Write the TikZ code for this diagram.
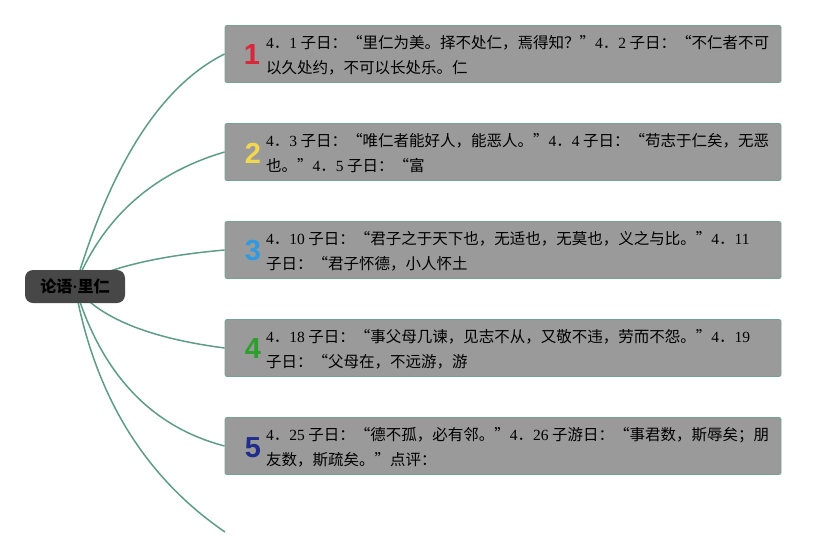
\documentclass[tikz,border=0pt]{standalone}
\usepackage{fontspec}
\setmainfont{Liberation Serif}
\newfontfamily\cjk{Noto Sans CJK SC}
\newfontfamily\numfont{Liberation Sans}
\usetikzlibrary{calc,backgrounds}
\definecolor{branch}{HTML}{5F9C86}
\definecolor{boxgray}{HTML}{9A9A9A}
\definecolor{boxline}{HTML}{74A291}
\definecolor{rootgray}{HTML}{474747}
\definecolor{numred}{HTML}{D9263B}
\definecolor{numyellow}{HTML}{F2D84C}
\definecolor{numblue}{HTML}{2F9AE0}
\definecolor{numgreen}{HTML}{2CA02C}
\definecolor{numnavy}{HTML}{1F2D8C}
\newcommand{\xh}[2]{\textrm{#1}．\textrm{#2}}

\begin{document}
\begin{tikzpicture}[x=1pt,y=-1pt,
  item/.style={draw=boxline,fill=boxgray,line width=0.8pt,rounded corners=2pt,
    minimum width=556pt,minimum height=57pt,inner sep=0pt},
  badge/.style={font=\numfont\fontsize{29}{29}\selectfont\bfseries,inner sep=0pt},
  txt/.style={anchor=west,align=left,inner sep=0pt,font=\cjk\fontsize{15.5}{25}\selectfont},
  branchline/.style={draw=branch,line width=1.5pt}]
  \useasboundingbox (0,0) rectangle (827,558);
  % tema central
  \node[fill=rootgray,rounded corners=8pt,minimum width=100pt,minimum height=33pt,
    inner sep=0pt,font=\cjk\fontsize{16}{16}\selectfont\bfseries] (root) at (75,286.5) {论语\textrm{\textbf{·}}里仁};
  % ramas
  \node[item] (b1) at (503,54) {};
  \node[item] (b2) at (503,152) {};
  \node[item] (b3) at (503,250) {};
  \node[item] (b4) at (503,348) {};
  \node[item] (b5) at (503,446) {};
  \coordinate (tip) at (225,532);
  \node[badge,text=numred] (n1) at (252,55) {1};
  \node[badge,text=numyellow] (n2) at (253,153) {2};
  \node[badge,text=numblue] (n3) at (253,251) {3};
  \node[badge,text=numgreen] (n4) at (253,349) {4};
  \node[badge,text=numnavy] (n5) at (253,448) {5};
  \node[txt] (t1) at (266,55) {\xh{4}{1} 子日：“里仁为美。择不处仁，焉得知？”\xh{4}{2} 子日：“不仁者不可\\以久处约，不可以长处乐。仁};
  \node[txt] (t2) at (266,153) {\xh{4}{3} 子日：“唯仁者能好人，能恶人。”\xh{4}{4} 子日：“苟志于仁矣，无恶\\也。”\xh{4}{5} 子日：“富};
  \node[txt] (t3) at (266,251) {\xh{4}{10} 子日：“君子之于天下也，无适也，无莫也，义之与比。”\xh{4}{11}\\子日：“君子怀德，小人怀土};
  \node[txt] (t4) at (266,349) {\xh{4}{18} 子日：“事父母几谏，见志不从，又敬不违，劳而不怨。”\xh{4}{19}\\子日：“父母在，不远游，游};
  \node[txt] (t5) at (266,447) {\xh{4}{25} 子日：“德不孤，必有邻。”\xh{4}{26} 子游日：“事君数，斯辱矣；朋\\友数，斯疏矣。”点评：};
  \begin{scope}[on background layer]
    \draw[branchline] (root.center) .. controls ($(root.center)!2/3!(130,101)$) and ($(b1.west)!2/3!(130,101)$) .. (b1.west);
    \draw[branchline] (root.center) .. controls ($(root.center)!2/3!(116,184)$) and ($(b2.west)!2/3!(116,184)$) .. (b2.west);
    \draw[branchline] (root.center) .. controls ($(root.center)!2/3!(122,259)$) and ($(b3.west)!2/3!(122,259)$) .. (b3.west);
    \draw[branchline] (root.center) .. controls ($(root.center)!2/3!(110,333)$) and ($(b4.west)!2/3!(110,333)$) .. (b4.west);
    \draw[branchline] (root.center) .. controls ($(root.center)!2/3!(114,417)$) and ($(b5.west)!2/3!(114,417)$) .. (b5.west);
    \draw[branchline] (root.center) .. controls ($(root.center)!2/3!(104,449)$) and ($(tip)!2/3!(104,449)$) .. (tip);
  \end{scope}
\end{tikzpicture}
\end{document}
